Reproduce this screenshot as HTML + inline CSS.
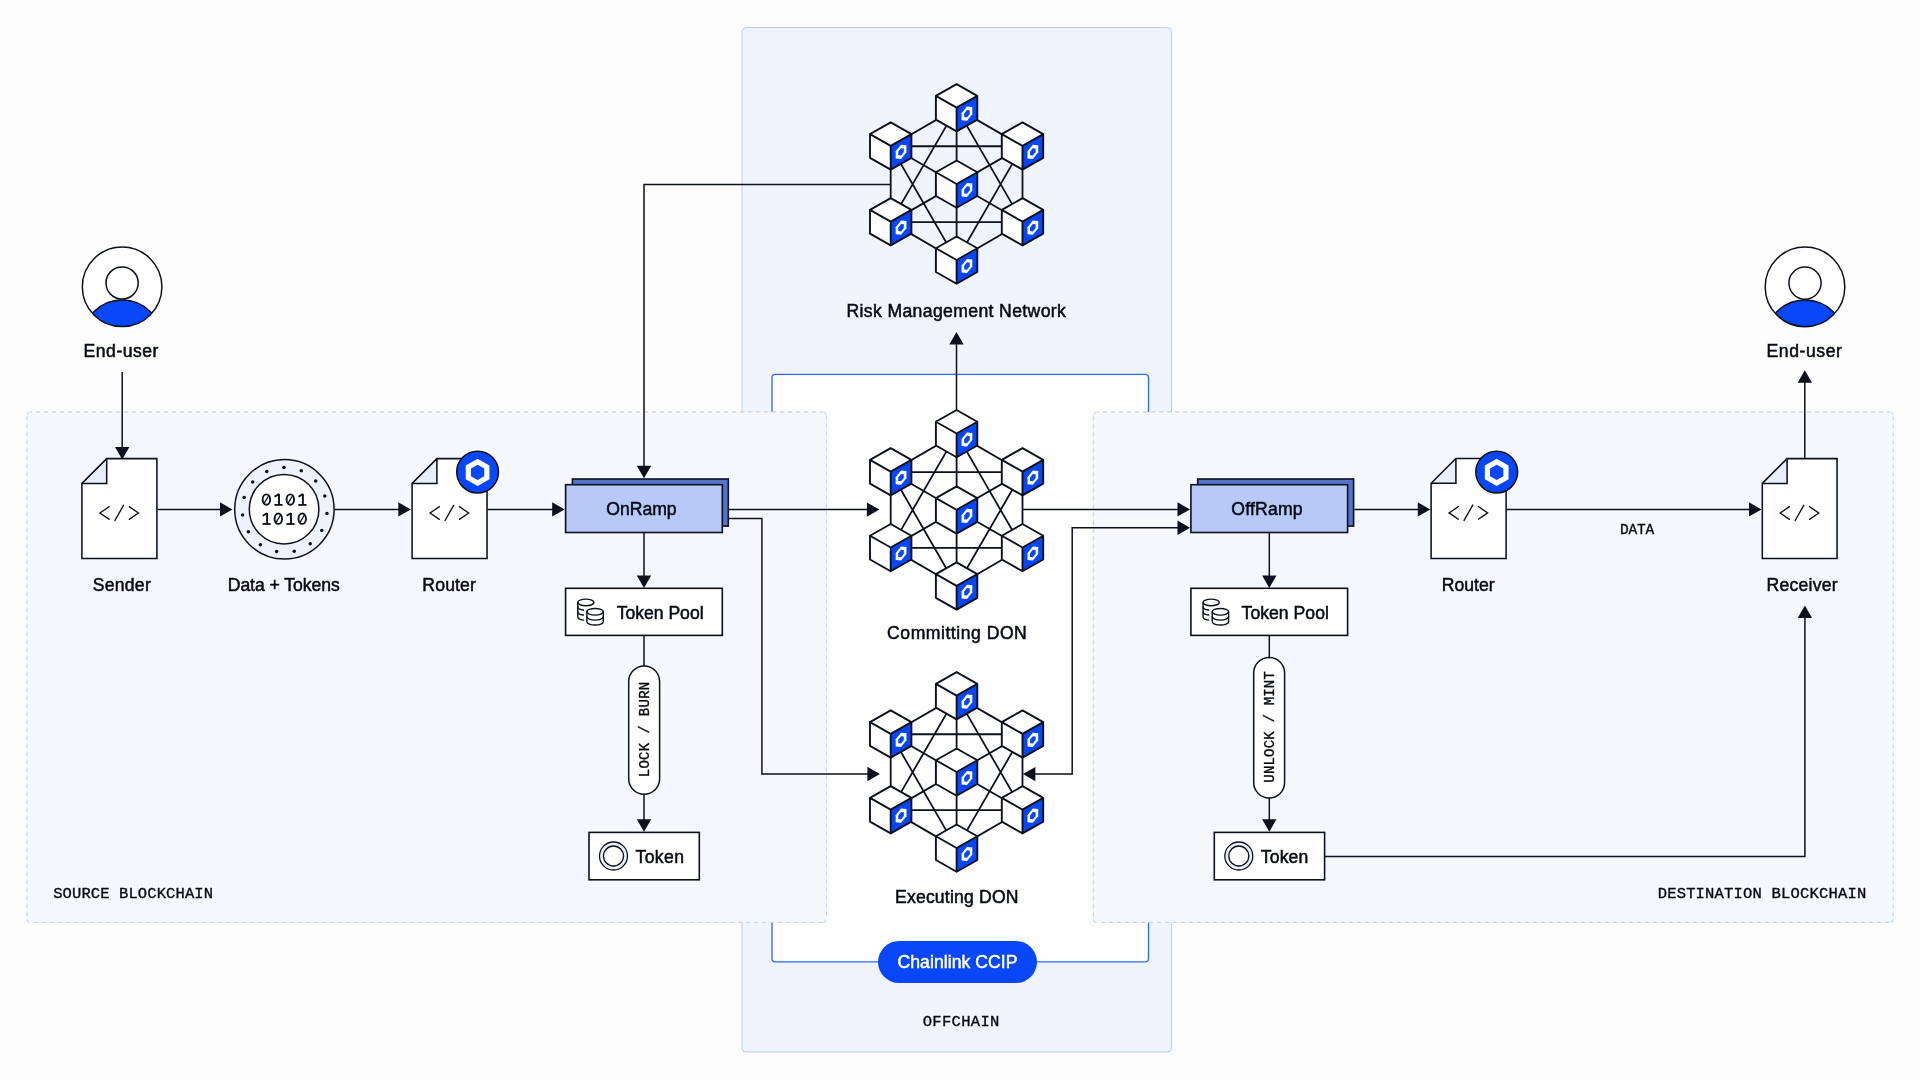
<!DOCTYPE html>
<html lang="en">
<head>
<meta charset="utf-8">
<title>Chainlink CCIP architecture</title>
<style>
html,body{margin:0;padding:0;background:#fdfdfe;}
body{width:1920px;height:1080px;overflow:hidden;font-family:"Liberation Sans",sans-serif;}
svg{display:block;}
svg{will-change:transform;}
svg text{font-kerning:normal;}
svg text.s{stroke-width:0.5px;}
svg text.m{stroke-width:0.35px;}
</style>
</head>
<body>
<svg width="1920" height="1080" viewBox="0 0 1920 1080">
<rect width="1920" height="1080" fill="#fdfdfe"/>
<defs><pattern id="dots" x="0" y="0" width="2" height="2" patternUnits="userSpaceOnUse"><rect width="2" height="2" fill="#f7f9fd"/><rect width="1" height="1" fill="#f1f4fb"/></pattern></defs>
<rect x="742" y="27.5" width="429.5" height="1024.5" rx="4" fill="#f0f4fd" stroke="#bccaeb" stroke-width="1"/>
<rect x="772" y="374.4" width="376.5" height="587.4" rx="3.3" fill="#fefeff" stroke="#3567f8" stroke-width="1.35"/>
<rect x="26.8" y="411.9" width="799.6" height="510.5" rx="3.5" fill="url(#dots)"/>
<path d="M30.3,411.9 L822.9,411.9" fill="none" stroke="#c4d2f0" stroke-width="1.15" stroke-dasharray="4 4" stroke-dashoffset="2.3"/>
<path d="M826.4,415.4 L826.4,918.9" fill="none" stroke="#c4d2f0" stroke-width="1.15" stroke-dasharray="4 4" stroke-dashoffset="0"/>
<path d="M30.3,922.4 L822.9,922.4" fill="none" stroke="#c4d2f0" stroke-width="1.15" stroke-dasharray="4 4" stroke-dashoffset="4.1"/>
<path d="M26.8,415.4 L26.8,918.9" fill="none" stroke="#c4d2f0" stroke-width="1.15" stroke-dasharray="4 4" stroke-dashoffset="7.2"/>
<path d="M26.8,415.4 A3.5,3.5 0 0 1 30.3,411.9" fill="none" stroke="#c4d2f0" stroke-width="1.15" stroke-dasharray="0 0.9 3.7 10"/>
<path d="M822.9,411.9 A3.5,3.5 0 0 1 826.4,415.4" fill="none" stroke="#c4d2f0" stroke-width="1.15" stroke-dasharray="0 0.9 3.7 10"/>
<path d="M826.4,918.9 A3.5,3.5 0 0 1 822.9,922.4" fill="none" stroke="#c4d2f0" stroke-width="1.15" stroke-dasharray="0 0.9 3.7 10"/>
<path d="M30.3,922.4 A3.5,3.5 0 0 1 26.8,918.9" fill="none" stroke="#c4d2f0" stroke-width="1.15" stroke-dasharray="0 0.9 3.7 10"/>
<rect x="1093.4" y="411.9" width="799.8" height="510.5" rx="3.5" fill="url(#dots)"/>
<path d="M1096.9,411.9 L1889.7,411.9" fill="none" stroke="#c4d2f0" stroke-width="1.15" stroke-dasharray="4 4" stroke-dashoffset="1.9"/>
<path d="M1893.2,415.4 L1893.2,918.9" fill="none" stroke="#c4d2f0" stroke-width="1.15" stroke-dasharray="4 4" stroke-dashoffset="7.2"/>
<path d="M1096.9,922.4 L1889.7,922.4" fill="none" stroke="#c4d2f0" stroke-width="1.15" stroke-dasharray="4 4" stroke-dashoffset="3.7"/>
<path d="M1093.4,415.4 L1093.4,918.9" fill="none" stroke="#c4d2f0" stroke-width="1.15" stroke-dasharray="4 4" stroke-dashoffset="7"/>
<path d="M1093.4,415.4 A3.5,3.5 0 0 1 1096.9,411.9" fill="none" stroke="#c4d2f0" stroke-width="1.15" stroke-dasharray="0 0.9 3.7 10"/>
<path d="M1889.7,411.9 A3.5,3.5 0 0 1 1893.2,415.4" fill="none" stroke="#c4d2f0" stroke-width="1.15" stroke-dasharray="0 0.9 3.7 10"/>
<path d="M1893.2,918.9 A3.5,3.5 0 0 1 1889.7,922.4" fill="none" stroke="#c4d2f0" stroke-width="1.15" stroke-dasharray="0 0.9 3.7 10"/>
<path d="M1096.9,922.4 A3.5,3.5 0 0 1 1093.4,918.9" fill="none" stroke="#c4d2f0" stroke-width="1.15" stroke-dasharray="0 0.9 3.7 10"/>
<path d="M122.2,372 L122.2,450" fill="none" stroke="#0c111d" stroke-width="1.5" stroke-linejoin="miter"/>
<polygon points="122.2,459.6 115,447.1 129.4,447.1" fill="#0c111d"/>
<path d="M157.5,509.4 L225,509.4" fill="none" stroke="#0c111d" stroke-width="1.5" stroke-linejoin="miter"/>
<polygon points="232.5,509.4 220,502.2 220,516.6" fill="#0c111d"/>
<path d="M334.5,509.4 L402,509.4" fill="none" stroke="#0c111d" stroke-width="1.5" stroke-linejoin="miter"/>
<polygon points="410.8,509.4 398.3,502.2 398.3,516.6" fill="#0c111d"/>
<path d="M487.5,509.4 L556,509.4" fill="none" stroke="#0c111d" stroke-width="1.5" stroke-linejoin="miter"/>
<polygon points="564.7,509.4 552.2,502.2 552.2,516.6" fill="#0c111d"/>
<path d="M729,509.4 L870,509.4" fill="none" stroke="#0c111d" stroke-width="1.5" stroke-linejoin="miter"/>
<polygon points="879.4,509.6 866.9,502.4 866.9,516.8" fill="#0c111d"/>
<path d="M729,518.6 L761.9,518.6 L761.9,774.1 L870,774.1" fill="none" stroke="#0c111d" stroke-width="1.5" stroke-linejoin="miter"/>
<polygon points="879.9,774 867.4,766.8 867.4,781.2" fill="#0c111d"/>
<path d="M890.6,184.4 L644,184.4 L644,470" fill="none" stroke="#0c111d" stroke-width="1.5" stroke-linejoin="miter"/>
<polygon points="644,478.2 636.8,465.7 651.2,465.7" fill="#0c111d"/>
<path d="M644,533 L644,580" fill="none" stroke="#0c111d" stroke-width="1.5" stroke-linejoin="miter"/>
<polygon points="644,588 636.8,575.5 651.2,575.5" fill="#0c111d"/>
<path d="M644,636 L644,666" fill="none" stroke="#0c111d" stroke-width="1.5" stroke-linejoin="miter"/>
<path d="M644,794 L644,824" fill="none" stroke="#0c111d" stroke-width="1.5" stroke-linejoin="miter"/>
<polygon points="644,831.8 636.8,819.3 651.2,819.3" fill="#0c111d"/>
<path d="M956.5,410 L956.5,342" fill="none" stroke="#0c111d" stroke-width="1.5" stroke-linejoin="miter"/>
<polygon points="956.5,332 949.3,344.5 963.7,344.5" fill="#0c111d"/>
<path d="M1022.6,509.4 L1181,509.4" fill="none" stroke="#0c111d" stroke-width="1.5" stroke-linejoin="miter"/>
<polygon points="1190,509.4 1177.5,502.2 1177.5,516.6" fill="#0c111d"/>
<path d="M1032,774.1 L1072.2,774.1 L1072.2,527.8 L1181,527.8" fill="none" stroke="#0c111d" stroke-width="1.5" stroke-linejoin="miter"/>
<polygon points="1022.9,774.1 1035.4,766.9 1035.4,781.3" fill="#0c111d"/>
<polygon points="1190,527.8 1177.5,520.6 1177.5,535" fill="#0c111d"/>
<path d="M1354.3,509.4 L1422,509.4" fill="none" stroke="#0c111d" stroke-width="1.5" stroke-linejoin="miter"/>
<polygon points="1430.3,509.4 1417.8,502.2 1417.8,516.6" fill="#0c111d"/>
<path d="M1506.5,509.4 L1753,509.4" fill="none" stroke="#0c111d" stroke-width="1.5" stroke-linejoin="miter"/>
<polygon points="1761.5,509.4 1749,502.2 1749,516.6" fill="#0c111d"/>
<path d="M1269.3,533 L1269.3,580" fill="none" stroke="#0c111d" stroke-width="1.5" stroke-linejoin="miter"/>
<polygon points="1269.3,588 1262.1,575.5 1276.5,575.5" fill="#0c111d"/>
<path d="M1269.3,636 L1269.3,658" fill="none" stroke="#0c111d" stroke-width="1.5" stroke-linejoin="miter"/>
<path d="M1269.3,798 L1269.3,824" fill="none" stroke="#0c111d" stroke-width="1.5" stroke-linejoin="miter"/>
<polygon points="1269.3,831.7 1262.1,819.2 1276.5,819.2" fill="#0c111d"/>
<path d="M1324.5,856.45 L1804.9,856.45 L1804.9,616" fill="none" stroke="#0c111d" stroke-width="1.5" stroke-linejoin="miter"/>
<polygon points="1804.9,605.4 1797.7,617.9 1812.1,617.9" fill="#0c111d"/>
<path d="M1804.8,458.5 L1804.8,381" fill="none" stroke="#0c111d" stroke-width="1.5" stroke-linejoin="miter"/>
<polygon points="1804.8,370.3 1797.6,382.8 1812,382.8" fill="#0c111d"/>
<path d="M956.6,108.1 L890.7,146.25 M890.7,146.25 L890.7,222.1 M890.7,222.1 L956.6,260.4 M956.6,260.4 L1022.5,222.1 M1022.5,222.1 L1022.5,146.25 M1022.5,146.25 L956.6,108.1 M956.6,108.1 L956.6,260.4 M890.7,146.25 L1022.5,222.1 M1022.5,146.25 L890.7,222.1 M956.6,108.1 L890.7,222.1 M956.6,108.1 L1022.5,222.1 M890.7,222.1 L1022.5,222.1 M956.6,260.4 L890.7,146.25 M956.6,260.4 L1022.5,146.25 M890.7,146.25 L1022.5,146.25 " fill="none" stroke="#0c111d" stroke-width="1.8"/>
<polygon points="956.6,84.2 977.3,95.95 977.3,119.7 956.6,131.45 935.9,119.7 935.9,95.95" fill="#fff" stroke="none"/>
<polygon points="956.6,107.7 977.3,95.95 977.3,119.7 956.6,131.45" fill="#0847f7" stroke="none"/>
<polygon points="966.95,106.58 972.33,107.08 972.33,114.21 966.95,120.83 961.57,120.32 961.57,113.19" fill="#fff"/>
<polygon points="966.95,110.02 969.73,110.28 969.73,113.96 966.95,117.38 964.17,117.12 964.17,113.44" fill="#0847f7"/>
<path d="M956.6,84.2 L977.3,95.95 L977.3,119.7 L956.6,131.45 L935.9,119.7 L935.9,95.95 Z M956.6,107.7 L935.9,95.95 M956.6,107.7 L977.3,95.95 M956.6,107.7 L956.6,131.45" fill="none" stroke="#0c111d" stroke-width="1.9" stroke-linejoin="round" stroke-linecap="round"/>
<polygon points="890.7,122.35 911.4,134.1 911.4,157.85 890.7,169.6 870,157.85 870,134.1" fill="#fff" stroke="none"/>
<polygon points="890.7,145.85 911.4,134.1 911.4,157.85 890.7,169.6" fill="#0847f7" stroke="none"/>
<polygon points="901.05,144.72 906.43,145.23 906.43,152.36 901.05,158.97 895.67,158.47 895.67,151.34" fill="#fff"/>
<polygon points="901.05,148.17 903.83,148.43 903.83,152.11 901.05,155.53 898.27,155.27 898.27,151.59" fill="#0847f7"/>
<path d="M890.7,122.35 L911.4,134.1 L911.4,157.85 L890.7,169.6 L870,157.85 L870,134.1 Z M890.7,145.85 L870,134.1 M890.7,145.85 L911.4,134.1 M890.7,145.85 L890.7,169.6" fill="none" stroke="#0c111d" stroke-width="1.9" stroke-linejoin="round" stroke-linecap="round"/>
<polygon points="1022.5,122.35 1043.2,134.1 1043.2,157.85 1022.5,169.6 1001.8,157.85 1001.8,134.1" fill="#fff" stroke="none"/>
<polygon points="1022.5,145.85 1043.2,134.1 1043.2,157.85 1022.5,169.6" fill="#0847f7" stroke="none"/>
<polygon points="1032.85,144.72 1038.23,145.23 1038.23,152.36 1032.85,158.97 1027.47,158.47 1027.47,151.34" fill="#fff"/>
<polygon points="1032.85,148.17 1035.63,148.43 1035.63,152.11 1032.85,155.53 1030.07,155.27 1030.07,151.59" fill="#0847f7"/>
<path d="M1022.5,122.35 L1043.2,134.1 L1043.2,157.85 L1022.5,169.6 L1001.8,157.85 L1001.8,134.1 Z M1022.5,145.85 L1001.8,134.1 M1022.5,145.85 L1043.2,134.1 M1022.5,145.85 L1022.5,169.6" fill="none" stroke="#0c111d" stroke-width="1.9" stroke-linejoin="round" stroke-linecap="round"/>
<polygon points="890.7,198.2 911.4,209.95 911.4,233.7 890.7,245.45 870,233.7 870,209.95" fill="#fff" stroke="none"/>
<polygon points="890.7,221.7 911.4,209.95 911.4,233.7 890.7,245.45" fill="#0847f7" stroke="none"/>
<polygon points="901.05,220.58 906.43,221.08 906.43,228.21 901.05,234.83 895.67,234.32 895.67,227.19" fill="#fff"/>
<polygon points="901.05,224.02 903.83,224.28 903.83,227.96 901.05,231.38 898.27,231.12 898.27,227.44" fill="#0847f7"/>
<path d="M890.7,198.2 L911.4,209.95 L911.4,233.7 L890.7,245.45 L870,233.7 L870,209.95 Z M890.7,221.7 L870,209.95 M890.7,221.7 L911.4,209.95 M890.7,221.7 L890.7,245.45" fill="none" stroke="#0c111d" stroke-width="1.9" stroke-linejoin="round" stroke-linecap="round"/>
<polygon points="1022.5,198.2 1043.2,209.95 1043.2,233.7 1022.5,245.45 1001.8,233.7 1001.8,209.95" fill="#fff" stroke="none"/>
<polygon points="1022.5,221.7 1043.2,209.95 1043.2,233.7 1022.5,245.45" fill="#0847f7" stroke="none"/>
<polygon points="1032.85,220.58 1038.23,221.08 1038.23,228.21 1032.85,234.83 1027.47,234.32 1027.47,227.19" fill="#fff"/>
<polygon points="1032.85,224.02 1035.63,224.28 1035.63,227.96 1032.85,231.38 1030.07,231.12 1030.07,227.44" fill="#0847f7"/>
<path d="M1022.5,198.2 L1043.2,209.95 L1043.2,233.7 L1022.5,245.45 L1001.8,233.7 L1001.8,209.95 Z M1022.5,221.7 L1001.8,209.95 M1022.5,221.7 L1043.2,209.95 M1022.5,221.7 L1022.5,245.45" fill="none" stroke="#0c111d" stroke-width="1.9" stroke-linejoin="round" stroke-linecap="round"/>
<polygon points="956.6,160.5 977.3,172.25 977.3,196 956.6,207.75 935.9,196 935.9,172.25" fill="#fff" stroke="none"/>
<polygon points="956.6,184 977.3,172.25 977.3,196 956.6,207.75" fill="#0847f7" stroke="none"/>
<polygon points="966.95,182.88 972.33,183.38 972.33,190.51 966.95,197.12 961.57,196.62 961.57,189.49" fill="#fff"/>
<polygon points="966.95,186.32 969.73,186.58 969.73,190.26 966.95,193.68 964.17,193.42 964.17,189.74" fill="#0847f7"/>
<path d="M956.6,160.5 L977.3,172.25 L977.3,196 L956.6,207.75 L935.9,196 L935.9,172.25 Z M956.6,184 L935.9,172.25 M956.6,184 L977.3,172.25 M956.6,184 L956.6,207.75" fill="none" stroke="#0c111d" stroke-width="1.9" stroke-linejoin="round" stroke-linecap="round"/>
<polygon points="956.6,236.5 977.3,248.25 977.3,272 956.6,283.75 935.9,272 935.9,248.25" fill="#fff" stroke="none"/>
<polygon points="956.6,260 977.3,248.25 977.3,272 956.6,283.75" fill="#0847f7" stroke="none"/>
<polygon points="966.95,258.88 972.33,259.38 972.33,266.51 966.95,273.12 961.57,272.62 961.57,265.49" fill="#fff"/>
<polygon points="966.95,262.32 969.73,262.58 969.73,266.26 966.95,269.68 964.17,269.42 964.17,265.74" fill="#0847f7"/>
<path d="M956.6,236.5 L977.3,248.25 L977.3,272 L956.6,283.75 L935.9,272 L935.9,248.25 Z M956.6,260 L935.9,248.25 M956.6,260 L977.3,248.25 M956.6,260 L956.6,283.75" fill="none" stroke="#0c111d" stroke-width="1.9" stroke-linejoin="round" stroke-linecap="round"/>
<path d="M956.6,433.9 L890.7,472.05 M890.7,472.05 L890.7,547.9 M890.7,547.9 L956.6,586.2 M956.6,586.2 L1022.5,547.9 M1022.5,547.9 L1022.5,472.05 M1022.5,472.05 L956.6,433.9 M956.6,433.9 L956.6,586.2 M890.7,472.05 L1022.5,547.9 M1022.5,472.05 L890.7,547.9 M956.6,433.9 L890.7,547.9 M956.6,433.9 L1022.5,547.9 M890.7,547.9 L1022.5,547.9 M956.6,586.2 L890.7,472.05 M956.6,586.2 L1022.5,472.05 M890.7,472.05 L1022.5,472.05 " fill="none" stroke="#0c111d" stroke-width="1.8"/>
<polygon points="956.6,410 977.3,421.75 977.3,445.5 956.6,457.25 935.9,445.5 935.9,421.75" fill="#fff" stroke="none"/>
<polygon points="956.6,433.5 977.3,421.75 977.3,445.5 956.6,457.25" fill="#0847f7" stroke="none"/>
<polygon points="966.95,432.38 972.33,432.88 972.33,440.01 966.95,446.62 961.57,446.12 961.57,438.99" fill="#fff"/>
<polygon points="966.95,435.82 969.73,436.08 969.73,439.76 966.95,443.18 964.17,442.92 964.17,439.24" fill="#0847f7"/>
<path d="M956.6,410 L977.3,421.75 L977.3,445.5 L956.6,457.25 L935.9,445.5 L935.9,421.75 Z M956.6,433.5 L935.9,421.75 M956.6,433.5 L977.3,421.75 M956.6,433.5 L956.6,457.25" fill="none" stroke="#0c111d" stroke-width="1.9" stroke-linejoin="round" stroke-linecap="round"/>
<polygon points="890.7,448.15 911.4,459.9 911.4,483.65 890.7,495.4 870,483.65 870,459.9" fill="#fff" stroke="none"/>
<polygon points="890.7,471.65 911.4,459.9 911.4,483.65 890.7,495.4" fill="#0847f7" stroke="none"/>
<polygon points="901.05,470.53 906.43,471.03 906.43,478.16 901.05,484.78 895.67,484.27 895.67,477.14" fill="#fff"/>
<polygon points="901.05,473.97 903.83,474.23 903.83,477.91 901.05,481.33 898.27,481.07 898.27,477.39" fill="#0847f7"/>
<path d="M890.7,448.15 L911.4,459.9 L911.4,483.65 L890.7,495.4 L870,483.65 L870,459.9 Z M890.7,471.65 L870,459.9 M890.7,471.65 L911.4,459.9 M890.7,471.65 L890.7,495.4" fill="none" stroke="#0c111d" stroke-width="1.9" stroke-linejoin="round" stroke-linecap="round"/>
<polygon points="1022.5,448.15 1043.2,459.9 1043.2,483.65 1022.5,495.4 1001.8,483.65 1001.8,459.9" fill="#fff" stroke="none"/>
<polygon points="1022.5,471.65 1043.2,459.9 1043.2,483.65 1022.5,495.4" fill="#0847f7" stroke="none"/>
<polygon points="1032.85,470.53 1038.23,471.03 1038.23,478.16 1032.85,484.78 1027.47,484.27 1027.47,477.14" fill="#fff"/>
<polygon points="1032.85,473.97 1035.63,474.23 1035.63,477.91 1032.85,481.33 1030.07,481.07 1030.07,477.39" fill="#0847f7"/>
<path d="M1022.5,448.15 L1043.2,459.9 L1043.2,483.65 L1022.5,495.4 L1001.8,483.65 L1001.8,459.9 Z M1022.5,471.65 L1001.8,459.9 M1022.5,471.65 L1043.2,459.9 M1022.5,471.65 L1022.5,495.4" fill="none" stroke="#0c111d" stroke-width="1.9" stroke-linejoin="round" stroke-linecap="round"/>
<polygon points="890.7,524 911.4,535.75 911.4,559.5 890.7,571.25 870,559.5 870,535.75" fill="#fff" stroke="none"/>
<polygon points="890.7,547.5 911.4,535.75 911.4,559.5 890.7,571.25" fill="#0847f7" stroke="none"/>
<polygon points="901.05,546.38 906.43,546.88 906.43,554.01 901.05,560.62 895.67,560.12 895.67,552.99" fill="#fff"/>
<polygon points="901.05,549.82 903.83,550.08 903.83,553.76 901.05,557.18 898.27,556.92 898.27,553.24" fill="#0847f7"/>
<path d="M890.7,524 L911.4,535.75 L911.4,559.5 L890.7,571.25 L870,559.5 L870,535.75 Z M890.7,547.5 L870,535.75 M890.7,547.5 L911.4,535.75 M890.7,547.5 L890.7,571.25" fill="none" stroke="#0c111d" stroke-width="1.9" stroke-linejoin="round" stroke-linecap="round"/>
<polygon points="1022.5,524 1043.2,535.75 1043.2,559.5 1022.5,571.25 1001.8,559.5 1001.8,535.75" fill="#fff" stroke="none"/>
<polygon points="1022.5,547.5 1043.2,535.75 1043.2,559.5 1022.5,571.25" fill="#0847f7" stroke="none"/>
<polygon points="1032.85,546.38 1038.23,546.88 1038.23,554.01 1032.85,560.62 1027.47,560.12 1027.47,552.99" fill="#fff"/>
<polygon points="1032.85,549.82 1035.63,550.08 1035.63,553.76 1032.85,557.18 1030.07,556.92 1030.07,553.24" fill="#0847f7"/>
<path d="M1022.5,524 L1043.2,535.75 L1043.2,559.5 L1022.5,571.25 L1001.8,559.5 L1001.8,535.75 Z M1022.5,547.5 L1001.8,535.75 M1022.5,547.5 L1043.2,535.75 M1022.5,547.5 L1022.5,571.25" fill="none" stroke="#0c111d" stroke-width="1.9" stroke-linejoin="round" stroke-linecap="round"/>
<polygon points="956.6,486.3 977.3,498.05 977.3,521.8 956.6,533.55 935.9,521.8 935.9,498.05" fill="#fff" stroke="none"/>
<polygon points="956.6,509.8 977.3,498.05 977.3,521.8 956.6,533.55" fill="#0847f7" stroke="none"/>
<polygon points="966.95,508.68 972.33,509.18 972.33,516.31 966.95,522.92 961.57,522.42 961.57,515.29" fill="#fff"/>
<polygon points="966.95,512.12 969.73,512.38 969.73,516.06 966.95,519.48 964.17,519.22 964.17,515.54" fill="#0847f7"/>
<path d="M956.6,486.3 L977.3,498.05 L977.3,521.8 L956.6,533.55 L935.9,521.8 L935.9,498.05 Z M956.6,509.8 L935.9,498.05 M956.6,509.8 L977.3,498.05 M956.6,509.8 L956.6,533.55" fill="none" stroke="#0c111d" stroke-width="1.9" stroke-linejoin="round" stroke-linecap="round"/>
<polygon points="956.6,562.3 977.3,574.05 977.3,597.8 956.6,609.55 935.9,597.8 935.9,574.05" fill="#fff" stroke="none"/>
<polygon points="956.6,585.8 977.3,574.05 977.3,597.8 956.6,609.55" fill="#0847f7" stroke="none"/>
<polygon points="966.95,584.68 972.33,585.18 972.33,592.31 966.95,598.93 961.57,598.42 961.57,591.29" fill="#fff"/>
<polygon points="966.95,588.12 969.73,588.38 969.73,592.06 966.95,595.48 964.17,595.22 964.17,591.54" fill="#0847f7"/>
<path d="M956.6,562.3 L977.3,574.05 L977.3,597.8 L956.6,609.55 L935.9,597.8 L935.9,574.05 Z M956.6,585.8 L935.9,574.05 M956.6,585.8 L977.3,574.05 M956.6,585.8 L956.6,609.55" fill="none" stroke="#0c111d" stroke-width="1.9" stroke-linejoin="round" stroke-linecap="round"/>
<path d="M956.6,696.1 L890.7,734.25 M890.7,734.25 L890.7,810.1 M890.7,810.1 L956.6,848.4 M956.6,848.4 L1022.5,810.1 M1022.5,810.1 L1022.5,734.25 M1022.5,734.25 L956.6,696.1 M956.6,696.1 L956.6,848.4 M890.7,734.25 L1022.5,810.1 M1022.5,734.25 L890.7,810.1 M956.6,696.1 L890.7,810.1 M956.6,696.1 L1022.5,810.1 M890.7,810.1 L1022.5,810.1 M956.6,848.4 L890.7,734.25 M956.6,848.4 L1022.5,734.25 M890.7,734.25 L1022.5,734.25 " fill="none" stroke="#0c111d" stroke-width="1.8"/>
<polygon points="956.6,672.2 977.3,683.95 977.3,707.7 956.6,719.45 935.9,707.7 935.9,683.95" fill="#fff" stroke="none"/>
<polygon points="956.6,695.7 977.3,683.95 977.3,707.7 956.6,719.45" fill="#0847f7" stroke="none"/>
<polygon points="966.95,694.58 972.33,695.08 972.33,702.21 966.95,708.83 961.57,708.32 961.57,701.19" fill="#fff"/>
<polygon points="966.95,698.02 969.73,698.28 969.73,701.96 966.95,705.38 964.17,705.12 964.17,701.44" fill="#0847f7"/>
<path d="M956.6,672.2 L977.3,683.95 L977.3,707.7 L956.6,719.45 L935.9,707.7 L935.9,683.95 Z M956.6,695.7 L935.9,683.95 M956.6,695.7 L977.3,683.95 M956.6,695.7 L956.6,719.45" fill="none" stroke="#0c111d" stroke-width="1.9" stroke-linejoin="round" stroke-linecap="round"/>
<polygon points="890.7,710.35 911.4,722.1 911.4,745.85 890.7,757.6 870,745.85 870,722.1" fill="#fff" stroke="none"/>
<polygon points="890.7,733.85 911.4,722.1 911.4,745.85 890.7,757.6" fill="#0847f7" stroke="none"/>
<polygon points="901.05,732.73 906.43,733.23 906.43,740.36 901.05,746.98 895.67,746.47 895.67,739.34" fill="#fff"/>
<polygon points="901.05,736.17 903.83,736.43 903.83,740.11 901.05,743.53 898.27,743.27 898.27,739.59" fill="#0847f7"/>
<path d="M890.7,710.35 L911.4,722.1 L911.4,745.85 L890.7,757.6 L870,745.85 L870,722.1 Z M890.7,733.85 L870,722.1 M890.7,733.85 L911.4,722.1 M890.7,733.85 L890.7,757.6" fill="none" stroke="#0c111d" stroke-width="1.9" stroke-linejoin="round" stroke-linecap="round"/>
<polygon points="1022.5,710.35 1043.2,722.1 1043.2,745.85 1022.5,757.6 1001.8,745.85 1001.8,722.1" fill="#fff" stroke="none"/>
<polygon points="1022.5,733.85 1043.2,722.1 1043.2,745.85 1022.5,757.6" fill="#0847f7" stroke="none"/>
<polygon points="1032.85,732.73 1038.23,733.23 1038.23,740.36 1032.85,746.98 1027.47,746.47 1027.47,739.34" fill="#fff"/>
<polygon points="1032.85,736.17 1035.63,736.43 1035.63,740.11 1032.85,743.53 1030.07,743.27 1030.07,739.59" fill="#0847f7"/>
<path d="M1022.5,710.35 L1043.2,722.1 L1043.2,745.85 L1022.5,757.6 L1001.8,745.85 L1001.8,722.1 Z M1022.5,733.85 L1001.8,722.1 M1022.5,733.85 L1043.2,722.1 M1022.5,733.85 L1022.5,757.6" fill="none" stroke="#0c111d" stroke-width="1.9" stroke-linejoin="round" stroke-linecap="round"/>
<polygon points="890.7,786.2 911.4,797.95 911.4,821.7 890.7,833.45 870,821.7 870,797.95" fill="#fff" stroke="none"/>
<polygon points="890.7,809.7 911.4,797.95 911.4,821.7 890.7,833.45" fill="#0847f7" stroke="none"/>
<polygon points="901.05,808.57 906.43,809.08 906.43,816.21 901.05,822.82 895.67,822.32 895.67,815.19" fill="#fff"/>
<polygon points="901.05,812.02 903.83,812.28 903.83,815.96 901.05,819.38 898.27,819.12 898.27,815.44" fill="#0847f7"/>
<path d="M890.7,786.2 L911.4,797.95 L911.4,821.7 L890.7,833.45 L870,821.7 L870,797.95 Z M890.7,809.7 L870,797.95 M890.7,809.7 L911.4,797.95 M890.7,809.7 L890.7,833.45" fill="none" stroke="#0c111d" stroke-width="1.9" stroke-linejoin="round" stroke-linecap="round"/>
<polygon points="1022.5,786.2 1043.2,797.95 1043.2,821.7 1022.5,833.45 1001.8,821.7 1001.8,797.95" fill="#fff" stroke="none"/>
<polygon points="1022.5,809.7 1043.2,797.95 1043.2,821.7 1022.5,833.45" fill="#0847f7" stroke="none"/>
<polygon points="1032.85,808.57 1038.23,809.08 1038.23,816.21 1032.85,822.82 1027.47,822.32 1027.47,815.19" fill="#fff"/>
<polygon points="1032.85,812.02 1035.63,812.28 1035.63,815.96 1032.85,819.38 1030.07,819.12 1030.07,815.44" fill="#0847f7"/>
<path d="M1022.5,786.2 L1043.2,797.95 L1043.2,821.7 L1022.5,833.45 L1001.8,821.7 L1001.8,797.95 Z M1022.5,809.7 L1001.8,797.95 M1022.5,809.7 L1043.2,797.95 M1022.5,809.7 L1022.5,833.45" fill="none" stroke="#0c111d" stroke-width="1.9" stroke-linejoin="round" stroke-linecap="round"/>
<polygon points="956.6,748.5 977.3,760.25 977.3,784 956.6,795.75 935.9,784 935.9,760.25" fill="#fff" stroke="none"/>
<polygon points="956.6,772 977.3,760.25 977.3,784 956.6,795.75" fill="#0847f7" stroke="none"/>
<polygon points="966.95,770.88 972.33,771.38 972.33,778.51 966.95,785.12 961.57,784.62 961.57,777.49" fill="#fff"/>
<polygon points="966.95,774.32 969.73,774.58 969.73,778.26 966.95,781.68 964.17,781.42 964.17,777.74" fill="#0847f7"/>
<path d="M956.6,748.5 L977.3,760.25 L977.3,784 L956.6,795.75 L935.9,784 L935.9,760.25 Z M956.6,772 L935.9,760.25 M956.6,772 L977.3,760.25 M956.6,772 L956.6,795.75" fill="none" stroke="#0c111d" stroke-width="1.9" stroke-linejoin="round" stroke-linecap="round"/>
<polygon points="956.6,824.5 977.3,836.25 977.3,860 956.6,871.75 935.9,860 935.9,836.25" fill="#fff" stroke="none"/>
<polygon points="956.6,848 977.3,836.25 977.3,860 956.6,871.75" fill="#0847f7" stroke="none"/>
<polygon points="966.95,846.88 972.33,847.38 972.33,854.51 966.95,861.12 961.57,860.62 961.57,853.49" fill="#fff"/>
<polygon points="966.95,850.32 969.73,850.58 969.73,854.26 966.95,857.68 964.17,857.42 964.17,853.74" fill="#0847f7"/>
<path d="M956.6,824.5 L977.3,836.25 L977.3,860 L956.6,871.75 L935.9,860 L935.9,836.25 Z M956.6,848 L935.9,836.25 M956.6,848 L977.3,836.25 M956.6,848 L956.6,871.75" fill="none" stroke="#0c111d" stroke-width="1.9" stroke-linejoin="round" stroke-linecap="round"/>
<clipPath id="uc122"><circle cx="122.1" cy="286.8" r="39.8"/></clipPath>
<circle cx="122.1" cy="286.8" r="39.8" fill="#fff"/>
<circle cx="122.1" cy="340" r="40" fill="#0847f7" stroke="#0c111d" stroke-width="1.5" clip-path="url(#uc122)"/>
<circle cx="122.1" cy="286.8" r="39.8" fill="none" stroke="#0c111d" stroke-width="1.5"/>
<circle cx="122.1" cy="283" r="16.1" fill="#fff" stroke="#0c111d" stroke-width="1.5"/>
<clipPath id="uc1805"><circle cx="1805" cy="286.9" r="39.8"/></clipPath>
<circle cx="1805" cy="286.9" r="39.8" fill="#fff"/>
<circle cx="1805" cy="340.1" r="40" fill="#0847f7" stroke="#0c111d" stroke-width="1.5" clip-path="url(#uc1805)"/>
<circle cx="1805" cy="286.9" r="39.8" fill="none" stroke="#0c111d" stroke-width="1.5"/>
<circle cx="1805" cy="283.1" r="16.1" fill="#fff" stroke="#0c111d" stroke-width="1.5"/>
<path d="M106.7,458.6 L156.9,458.6 L156.9,558.5 L81.9,558.5 L81.9,483.4 Z" fill="#fff" stroke="none"/>
<path d="M106.7,458.6 L106.7,483.4 L81.9,483.4 Z" fill="#e9eefb" stroke="none"/>
<path d="M106.7,458.6 L156.9,458.6 L156.9,558.5 L81.9,558.5 L81.9,483.4 Z M106.7,458.6 L106.7,483.4 L81.9,483.4" fill="none" stroke="#0c111d" stroke-width="1.55" stroke-linejoin="miter"/>
<path d="M109.6,506.4 L99.9,513 L109.6,519.6 M114.6,521 L123.8,504.8 M128.8,506.4 L138.5,513 L128.8,519.6" fill="none" stroke="#0c111d" stroke-width="1.35" stroke-linejoin="miter" stroke-linecap="butt"/>
<path d="M436.9,458.6 L487.05,458.6 L487.05,558.5 L412.1,558.5 L412.1,483.4 Z" fill="#fff" stroke="none"/>
<path d="M436.9,458.6 L436.9,483.4 L412.1,483.4 Z" fill="#e9eefb" stroke="none"/>
<path d="M436.9,458.6 L487.05,458.6 L487.05,558.5 L412.1,558.5 L412.1,483.4 Z M436.9,458.6 L436.9,483.4 L412.1,483.4" fill="none" stroke="#0c111d" stroke-width="1.55" stroke-linejoin="miter"/>
<path d="M439.78,506.4 L430.08,513 L439.78,519.6 M444.78,521 L453.98,504.8 M458.98,506.4 L468.68,513 L458.98,519.6" fill="none" stroke="#0c111d" stroke-width="1.35" stroke-linejoin="miter" stroke-linecap="butt"/>
<circle cx="477.6" cy="472.1" r="20.9" fill="#0847f7" stroke="#0c111d" stroke-width="1.5"/>
<polygon points="477.6,458.7 489.46,465.55 489.46,479.25 477.6,486.1 465.74,479.25 465.74,465.55" fill="#fff"/>
<polygon points="477.6,464.7 484.27,468.55 484.27,476.25 477.6,480.1 470.93,476.25 470.93,468.55" fill="#0847f7"/>
<path d="M1455.9,458.5 L1506.1,458.5 L1506.1,558.5 L1431.1,558.5 L1431.1,483.3 Z" fill="#fff" stroke="none"/>
<path d="M1455.9,458.5 L1455.9,483.3 L1431.1,483.3 Z" fill="#e9eefb" stroke="none"/>
<path d="M1455.9,458.5 L1506.1,458.5 L1506.1,558.5 L1431.1,558.5 L1431.1,483.3 Z M1455.9,458.5 L1455.9,483.3 L1431.1,483.3" fill="none" stroke="#0c111d" stroke-width="1.55" stroke-linejoin="miter"/>
<path d="M1458.8,506.3 L1449.1,512.9 L1458.8,519.5 M1463.8,520.9 L1473,504.7 M1478,506.3 L1487.7,512.9 L1478,519.5" fill="none" stroke="#0c111d" stroke-width="1.35" stroke-linejoin="miter" stroke-linecap="butt"/>
<circle cx="1496.7" cy="472.1" r="20.9" fill="#0847f7" stroke="#0c111d" stroke-width="1.5"/>
<polygon points="1496.7,458.7 1508.56,465.55 1508.56,479.25 1496.7,486.1 1484.84,479.25 1484.84,465.55" fill="#fff"/>
<polygon points="1496.7,464.7 1503.37,468.55 1503.37,476.25 1496.7,480.1 1490.03,476.25 1490.03,468.55" fill="#0847f7"/>
<path d="M1787.1,458.6 L1837.05,458.6 L1837.05,558.5 L1762.3,558.5 L1762.3,483.4 Z" fill="#fff" stroke="none"/>
<path d="M1787.1,458.6 L1787.1,483.4 L1762.3,483.4 Z" fill="#e9eefb" stroke="none"/>
<path d="M1787.1,458.6 L1837.05,458.6 L1837.05,558.5 L1762.3,558.5 L1762.3,483.4 Z M1787.1,458.6 L1787.1,483.4 L1762.3,483.4" fill="none" stroke="#0c111d" stroke-width="1.55" stroke-linejoin="miter"/>
<path d="M1789.88,506.4 L1780.17,513 L1789.88,519.6 M1794.88,521 L1804.07,504.8 M1809.07,506.4 L1818.77,513 L1809.07,519.6" fill="none" stroke="#0c111d" stroke-width="1.35" stroke-linejoin="miter" stroke-linecap="butt"/>
<circle cx="284.4" cy="509.3" r="49.7" fill="#eef2fb" stroke="#0c111d" stroke-width="1.5"/>
<circle cx="284.1" cy="509.2" r="34.8" fill="#fff" stroke="#0c111d" stroke-width="1.5"/>
<circle cx="283.96" cy="467.51" r="1.75" fill="#0c111d"/>
<circle cx="301.27" cy="470.87" r="1.75" fill="#0c111d"/>
<circle cx="315.71" cy="480.98" r="1.75" fill="#0c111d"/>
<circle cx="324.79" cy="496.1" r="1.75" fill="#0c111d"/>
<circle cx="326.94" cy="513.6" r="1.75" fill="#0c111d"/>
<circle cx="321.78" cy="530.46" r="1.75" fill="#0c111d"/>
<circle cx="310.22" cy="543.76" r="1.75" fill="#0c111d"/>
<circle cx="294.24" cy="551.21" r="1.75" fill="#0c111d"/>
<circle cx="276.61" cy="551.52" r="1.75" fill="#0c111d"/>
<circle cx="260.38" cy="544.63" r="1.75" fill="#0c111d"/>
<circle cx="248.36" cy="531.74" r="1.75" fill="#0c111d"/>
<circle cx="242.62" cy="515.07" r="1.75" fill="#0c111d"/>
<circle cx="244.15" cy="497.5" r="1.75" fill="#0c111d"/>
<circle cx="252.7" cy="482.08" r="1.75" fill="#0c111d"/>
<circle cx="266.78" cy="471.47" r="1.75" fill="#0c111d"/>
<ellipse cx="266.4" cy="499.6" rx="3.75" ry="5.2" fill="none" stroke="#0c111d" stroke-width="1.9"/>
<path d="M264.2,503.2 L268.6,496" stroke="#0c111d" stroke-width="1.3" fill="none"/>
<path d="M274.6,496.7 L279,494.1 V505" stroke="#0c111d" stroke-width="1.9" fill="none" stroke-linejoin="bevel"/>
<path d="M274.4,504.9 H282.6" stroke="#0c111d" stroke-width="1.8" fill="none"/>
<ellipse cx="290.3" cy="499.6" rx="3.75" ry="5.2" fill="none" stroke="#0c111d" stroke-width="1.9"/>
<path d="M288.1,503.2 L292.5,496" stroke="#0c111d" stroke-width="1.3" fill="none"/>
<path d="M298.5,496.7 L302.9,494.1 V505" stroke="#0c111d" stroke-width="1.9" fill="none" stroke-linejoin="bevel"/>
<path d="M298.3,504.9 H306.5" stroke="#0c111d" stroke-width="1.8" fill="none"/>
<path d="M262.7,515.8 L267.1,513.2 V524.1" stroke="#0c111d" stroke-width="1.9" fill="none" stroke-linejoin="bevel"/>
<path d="M262.5,524 H270.7" stroke="#0c111d" stroke-width="1.8" fill="none"/>
<ellipse cx="278.3" cy="518.7" rx="3.75" ry="5.2" fill="none" stroke="#0c111d" stroke-width="1.9"/>
<path d="M276.1,522.3 L280.5,515.1" stroke="#0c111d" stroke-width="1.3" fill="none"/>
<path d="M286.6,515.8 L291,513.2 V524.1" stroke="#0c111d" stroke-width="1.9" fill="none" stroke-linejoin="bevel"/>
<path d="M286.4,524 H294.6" stroke="#0c111d" stroke-width="1.8" fill="none"/>
<ellipse cx="302.2" cy="518.7" rx="3.75" ry="5.2" fill="none" stroke="#0c111d" stroke-width="1.9"/>
<path d="M300,522.3 L304.4,515.1" stroke="#0c111d" stroke-width="1.3" fill="none"/>
<rect x="572.4" y="479" width="155.9" height="47.1" fill="#5572cb" stroke="#0c111d" stroke-width="1.6"/>
<rect x="565.6" y="484.7" width="156.7" height="47.8" fill="#b8c9f8" stroke="#0c111d" stroke-width="1.6"/>
<rect x="565.6" y="588.3" width="156.7" height="47.1" fill="#fff" stroke="#0c111d" stroke-width="1.6"/>
<g transform="translate(0,0)" fill="none" stroke="#0c111d" stroke-width="1.4" stroke-linecap="round"><ellipse cx="585.9" cy="602.4" rx="8.1" ry="3.3"/><path d="M577.8,602.4 V617 A8.1,3.3 0 0 0 583.4,620.15"/><path d="M577.8,606.9 A8.1,3.3 0 0 0 583.4,610.05"/><path d="M577.8,611.9 A8.1,3.3 0 0 0 583.4,615.05"/><ellipse cx="595.1" cy="611.8" rx="8.2" ry="3.3" fill="#fff"/><path d="M586.9,611.8 V621.7 A8.2,3.3 0 0 0 603.3,621.7 V611.8"/><path d="M586.9,616.8 A8.2,3.3 0 0 0 603.3,616.8"/></g>
<rect x="589" y="832.4" width="110.3" height="47.4" fill="#fff" stroke="#0c111d" stroke-width="1.6"/>
<circle cx="613.5" cy="856" r="14" fill="#eef2fb" stroke="#0c111d" stroke-width="1.3"/>
<circle cx="613.5" cy="856" r="10" fill="#fff" stroke="#0c111d" stroke-width="1.3"/>
<circle cx="613.5" cy="844" r="0.45" fill="#b4bfd9"/>
<circle cx="618.09" cy="844.91" r="0.45" fill="#b4bfd9"/>
<circle cx="621.99" cy="847.51" r="0.45" fill="#b4bfd9"/>
<circle cx="624.59" cy="851.41" r="0.45" fill="#b4bfd9"/>
<circle cx="625.5" cy="856" r="0.45" fill="#b4bfd9"/>
<circle cx="624.59" cy="860.59" r="0.45" fill="#b4bfd9"/>
<circle cx="621.99" cy="864.49" r="0.45" fill="#b4bfd9"/>
<circle cx="618.09" cy="867.09" r="0.45" fill="#b4bfd9"/>
<circle cx="613.5" cy="868" r="0.45" fill="#b4bfd9"/>
<circle cx="608.91" cy="867.09" r="0.45" fill="#b4bfd9"/>
<circle cx="605.01" cy="864.49" r="0.45" fill="#b4bfd9"/>
<circle cx="602.41" cy="860.59" r="0.45" fill="#b4bfd9"/>
<circle cx="601.5" cy="856" r="0.45" fill="#b4bfd9"/>
<circle cx="602.41" cy="851.41" r="0.45" fill="#b4bfd9"/>
<circle cx="605.01" cy="847.51" r="0.45" fill="#b4bfd9"/>
<circle cx="608.91" cy="844.91" r="0.45" fill="#b4bfd9"/>
<rect x="1197.7" y="479" width="155.9" height="47.1" fill="#5572cb" stroke="#0c111d" stroke-width="1.6"/>
<rect x="1190.9" y="484.7" width="156.7" height="47.8" fill="#b8c9f8" stroke="#0c111d" stroke-width="1.6"/>
<rect x="1190.9" y="588.3" width="156.7" height="47.1" fill="#fff" stroke="#0c111d" stroke-width="1.6"/>
<g transform="translate(625.3,0)" fill="none" stroke="#0c111d" stroke-width="1.4" stroke-linecap="round"><ellipse cx="585.9" cy="602.4" rx="8.1" ry="3.3"/><path d="M577.8,602.4 V617 A8.1,3.3 0 0 0 583.4,620.15"/><path d="M577.8,606.9 A8.1,3.3 0 0 0 583.4,610.05"/><path d="M577.8,611.9 A8.1,3.3 0 0 0 583.4,615.05"/><ellipse cx="595.1" cy="611.8" rx="8.2" ry="3.3" fill="#fff"/><path d="M586.9,611.8 V621.7 A8.2,3.3 0 0 0 603.3,621.7 V611.8"/><path d="M586.9,616.8 A8.2,3.3 0 0 0 603.3,616.8"/></g>
<rect x="1214.3" y="832.4" width="110.3" height="47.4" fill="#fff" stroke="#0c111d" stroke-width="1.6"/>
<circle cx="1238.8" cy="856" r="14" fill="#eef2fb" stroke="#0c111d" stroke-width="1.3"/>
<circle cx="1238.8" cy="856" r="10" fill="#fff" stroke="#0c111d" stroke-width="1.3"/>
<circle cx="1238.8" cy="844" r="0.45" fill="#b4bfd9"/>
<circle cx="1243.39" cy="844.91" r="0.45" fill="#b4bfd9"/>
<circle cx="1247.29" cy="847.51" r="0.45" fill="#b4bfd9"/>
<circle cx="1249.89" cy="851.41" r="0.45" fill="#b4bfd9"/>
<circle cx="1250.8" cy="856" r="0.45" fill="#b4bfd9"/>
<circle cx="1249.89" cy="860.59" r="0.45" fill="#b4bfd9"/>
<circle cx="1247.29" cy="864.49" r="0.45" fill="#b4bfd9"/>
<circle cx="1243.39" cy="867.09" r="0.45" fill="#b4bfd9"/>
<circle cx="1238.8" cy="868" r="0.45" fill="#b4bfd9"/>
<circle cx="1234.21" cy="867.09" r="0.45" fill="#b4bfd9"/>
<circle cx="1230.31" cy="864.49" r="0.45" fill="#b4bfd9"/>
<circle cx="1227.71" cy="860.59" r="0.45" fill="#b4bfd9"/>
<circle cx="1226.8" cy="856" r="0.45" fill="#b4bfd9"/>
<circle cx="1227.71" cy="851.41" r="0.45" fill="#b4bfd9"/>
<circle cx="1230.31" cy="847.51" r="0.45" fill="#b4bfd9"/>
<circle cx="1234.21" cy="844.91" r="0.45" fill="#b4bfd9"/>
<rect x="628.7" y="666" width="30.9" height="128.2" rx="15.45" fill="#fff" stroke="#0c111d" stroke-width="1.5"/>
<rect x="1253.7" y="657.5" width="30.9" height="140.5" rx="15.45" fill="#fff" stroke="#0c111d" stroke-width="1.5"/>
<rect x="878" y="941" width="159" height="42" rx="21" fill="#0847f7"/>
<text class="s" stroke="#070a12" x="83.6" y="357.3" font-family="'Liberation Sans', sans-serif" font-size="17.6" text-anchor="start" fill="#070a12" textLength="74.81" lengthAdjust="spacing" >End-user</text>
<text class="s" stroke="#070a12" x="1766.46" y="357.3" font-family="'Liberation Sans', sans-serif" font-size="17.6" text-anchor="start" fill="#070a12" textLength="75.45" lengthAdjust="spacing" >End-user</text>
<text class="s" stroke="#070a12" x="92.64" y="590.6" font-family="'Liberation Sans', sans-serif" font-size="17.6" text-anchor="start" fill="#070a12" textLength="58.12" lengthAdjust="spacing" >Sender</text>
<text class="s" stroke="#070a12" x="227.71" y="590.6" font-family="'Liberation Sans', sans-serif" font-size="17.6" text-anchor="start" fill="#070a12" textLength="112.09" lengthAdjust="spacing" >Data + Tokens</text>
<text class="s" stroke="#070a12" x="422.36" y="590.6" font-family="'Liberation Sans', sans-serif" font-size="17.6" text-anchor="start" fill="#070a12" textLength="53.53" lengthAdjust="spacing" >Router</text>
<text class="s" stroke="#070a12" x="606.33" y="514.8" font-family="'Liberation Sans', sans-serif" font-size="17.6" text-anchor="start" fill="#070a12" textLength="70.29" lengthAdjust="spacing" >OnRamp</text>
<text class="s" stroke="#070a12" x="616.64" y="618.5" font-family="'Liberation Sans', sans-serif" font-size="17.6" text-anchor="start" fill="#070a12" textLength="86.96" lengthAdjust="spacing" >Token Pool</text>
<text class="s" stroke="#070a12" x="635.59" y="862.9" font-family="'Liberation Sans', sans-serif" font-size="17.6" text-anchor="start" fill="#070a12" textLength="48.36" lengthAdjust="spacing" >Token</text>
<text class="s" stroke="#070a12" x="846.46" y="317" font-family="'Liberation Sans', sans-serif" font-size="17.6" text-anchor="start" fill="#070a12" textLength="219.37" lengthAdjust="spacing" >Risk Management Network</text>
<text class="s" stroke="#070a12" x="887.1" y="638.7" font-family="'Liberation Sans', sans-serif" font-size="17.6" text-anchor="start" fill="#070a12" textLength="139.71" lengthAdjust="spacing" >Committing DON</text>
<text class="s" stroke="#070a12" x="895" y="903.4" font-family="'Liberation Sans', sans-serif" font-size="17.6" text-anchor="start" fill="#070a12" textLength="123.5" lengthAdjust="spacing" >Executing DON</text>
<text class="s" stroke="#ffffff" x="897.49" y="968" font-family="'Liberation Sans', sans-serif" font-size="17.6" text-anchor="start" fill="#ffffff" textLength="120.03" lengthAdjust="spacing" >Chainlink CCIP</text>
<text class="s" stroke="#070a12" x="1231.22" y="514.8" font-family="'Liberation Sans', sans-serif" font-size="17.6" text-anchor="start" fill="#070a12" textLength="71.44" lengthAdjust="spacing" >OffRamp</text>
<text class="s" stroke="#070a12" x="1241.58" y="618.5" font-family="'Liberation Sans', sans-serif" font-size="17.6" text-anchor="start" fill="#070a12" textLength="87.3" lengthAdjust="spacing" >Token Pool</text>
<text class="s" stroke="#070a12" x="1260.84" y="862.8" font-family="'Liberation Sans', sans-serif" font-size="17.6" text-anchor="start" fill="#070a12" textLength="47.45" lengthAdjust="spacing" >Token</text>
<text class="s" stroke="#070a12" x="1441.76" y="590.6" font-family="'Liberation Sans', sans-serif" font-size="17.6" text-anchor="start" fill="#070a12" textLength="52.89" lengthAdjust="spacing" >Router</text>
<text class="s" stroke="#070a12" x="1766.47" y="590.6" font-family="'Liberation Sans', sans-serif" font-size="17.6" text-anchor="start" fill="#070a12" textLength="71.23" lengthAdjust="spacing" >Receiver</text>
<text class="m" stroke="#070a12" x="53.14" y="898.1" font-family="'Liberation Mono', monospace" font-size="15.5" text-anchor="start" fill="#070a12" textLength="159.95" lengthAdjust="spacing" >SOURCE BLOCKCHAIN</text>
<text class="m" stroke="#070a12" x="1657.65" y="897.9" font-family="'Liberation Mono', monospace" font-size="15.5" text-anchor="start" fill="#070a12" textLength="208.68" lengthAdjust="spacing" >DESTINATION BLOCKCHAIN</text>
<text class="m" stroke="#070a12" x="922.65" y="1025.8" font-family="'Liberation Mono', monospace" font-size="15.5" text-anchor="start" fill="#070a12" textLength="76.67" lengthAdjust="spacing" >OFFCHAIN</text>
<text class="m" stroke="#070a12" x="1620" y="533.8" font-family="'Liberation Mono', monospace" font-size="14.5" text-anchor="start" fill="#070a12" textLength="34.17" lengthAdjust="spacing" >DATA</text>
<g transform="translate(649.4,777.3) rotate(-90)">
<text class="m" stroke="#070a12" x="0" y="0" font-family="'Liberation Mono', monospace" font-size="14" text-anchor="start" fill="#070a12" textLength="95.59" lengthAdjust="spacing" >LOCK / BURN</text>
</g>
<g transform="translate(1274.4,782.71) rotate(-90)">
<text class="m" stroke="#070a12" x="0" y="0" font-family="'Liberation Mono', monospace" font-size="14" text-anchor="start" fill="#070a12" textLength="111.59" lengthAdjust="spacing" >UNLOCK / MINT</text>
</g>
</svg>
</body>
</html>
